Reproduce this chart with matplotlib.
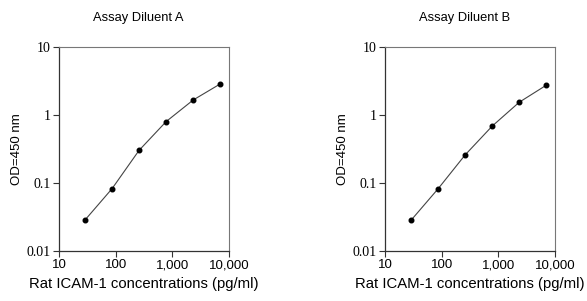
import numpy as np
import matplotlib
matplotlib.use('Agg')
import matplotlib.pyplot as plt
from matplotlib.ticker import FixedLocator, FixedFormatter, NullLocator

conc = [28.8, 86.4, 259, 778, 2333, 7000]
od_a = [0.0286, 0.0826, 0.302, 0.80, 1.66, 2.86]
od_b = [0.0284, 0.0824, 0.259, 0.687, 1.54, 2.74]
titles = ['Assay Diluent A', 'Assay Diluent B']
xticks = [10, 100, 1000, 10000]
xlabels = ['10', '100', '1,000', '10,000']
yticks = [0.01, 0.1, 1, 10]
ylabels = ['0.01', '0.1', '1', '10']

fig = plt.figure(figsize=(5.87, 3.01), dpi=100)
lefts = [0.1005, 0.656]

for left, od, title in zip(lefts, [od_a, od_b], titles):
    ax = fig.add_axes([left, 0.166, 0.2896, 0.678])
    ax.plot(conc, od, color='#444444', lw=0.8, marker='o', ms=3.3,
            mfc='black', mec='black')
    ax.set_xscale('log')
    ax.set_yscale('log')
    ax.set_xlim(10, 10000)
    ax.set_ylim(0.01, 10)
    ax.xaxis.set_major_locator(FixedLocator(xticks))
    ax.xaxis.set_major_formatter(FixedFormatter(xlabels))
    ax.yaxis.set_major_locator(FixedLocator(yticks))
    ax.yaxis.set_major_formatter(FixedFormatter(ylabels))
    ax.xaxis.set_minor_locator(NullLocator())
    ax.yaxis.set_minor_locator(NullLocator())
    for s in ['left', 'bottom']:
        ax.spines[s].set_color('#333333')
        ax.spines[s].set_linewidth(0.9)
    for s in ['top', 'right']:
        ax.spines[s].set_color('#777777')
        ax.spines[s].set_linewidth(0.8)
    ax.tick_params(axis='both', direction='out', length=4, width=0.8,
                   color='#333333', pad=2)
    ax.tick_params(axis='x', labelsize=9.5)
    for lab in ax.get_xticklabels():
        lab.set_family('Liberation Sans')
    for lab in ax.get_yticklabels():
        lab.set_family('Liberation Serif')
        lab.set_fontsize(10)
    ax.set_ylabel('OD=450 nm', family='Liberation Sans', fontsize=9.5, labelpad=2.5)
    ax.set_xlabel('Rat ICAM-1 concentrations (pg/ml)', family='Liberation Sans',
                  fontsize=10.7, labelpad=4)
    ax.set_title(title, family='Liberation Sans', fontsize=9.3, pad=19, x=0.465)

fig.savefig('out.png', dpi=100)
